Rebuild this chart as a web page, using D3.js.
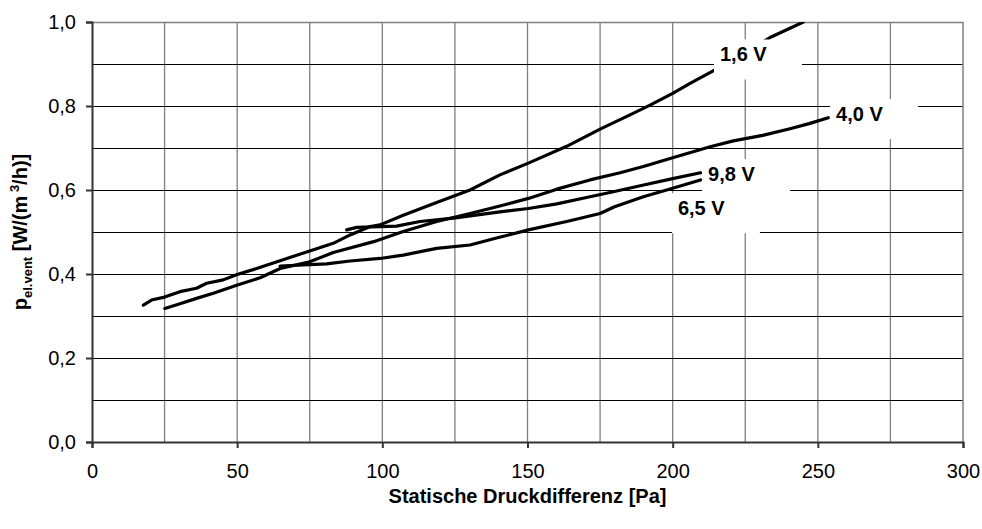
<!DOCTYPE html>
<html>
<head>
<meta charset="utf-8">
<script src="https://cdn.jsdelivr.net/npm/d3@7"></script>
<style>
  body { margin: 0; background: #fff; }
  svg text { font-family: Arial, "Liberation Sans", sans-serif; }
</style>
</head>
<body>
<div id="chart"></div>
<script>
// series: [Pa, W/(m3/h)]
var series16 = [[17.7,0.326],[20.5,0.338],[25,0.345],[30.3,0.358],[36,0.366],[39.5,0.378],[45.2,0.386],
  [50,0.399],[56.7,0.413],[75,0.455],[83.1,0.473],[88.9,0.493],[95.8,0.513],[99.2,0.517],[107.2,0.54],
  [118.7,0.57],[130.2,0.6],[140.5,0.636],[150.3,0.664],[163.5,0.704],[175,0.745],[185.3,0.779],
  [192.2,0.802],[200,0.83],[206,0.854],[213.8,0.883],[234.1,0.965],[245,1.0]];
var series40 = [[25.1,0.318],[30.3,0.329],[36,0.342],[41.8,0.354],[50.1,0.374],[57.9,0.391],[64.8,0.413],
  [75,0.429],[83.1,0.451],[97,0.477],[107.2,0.501],[118.7,0.525],[130.2,0.544],[140.5,0.562],[150.3,0.58],
  [160.1,0.602],[171.5,0.624],[181.9,0.641],[189.9,0.656],[200,0.677],[212.9,0.703],[220.9,0.717],
  [231,0.73],[240.4,0.746],[247,0.758],[253.6,0.772]];
var series98 = [[87.7,0.505],[91.2,0.511],[99.2,0.513],[104.9,0.514],[113,0.525],[124.5,0.533],[140.5,0.548],
  [150.3,0.556],[160.1,0.567],[171.5,0.584],[178.4,0.594],[190,0.612],[200,0.627],[209.6,0.641]];
var series65 = [[64.8,0.419],[80.8,0.424],[88.9,0.431],[99.2,0.437],[107.2,0.445],[118.7,0.461],[130.2,0.469],
  [140,0.487],[150.3,0.505],[163.5,0.525],[175,0.544],[180,0.56],[189.9,0.584],[200,0.604],[209.6,0.624]];

var seriesList = [series16, series40, series98, series65];
var labelNames = ["1,6 V", "4,0 V", "9,8 V", "6,5 V"];
var labelAt = [[216.3,0.906],[256.3,0.764],[212.2,0.621],[201.8,0.540]];

var xTicks = [0, 50, 100, 150, 200, 250, 300];
var xGrid = [25, 50, 75, 100, 125, 150, 175, 200, 225, 250, 275];
var yTicks = [0, 0.2, 0.4, 0.6, 0.8, 1.0];
var yGrid = [0.1, 0.2, 0.3, 0.4, 0.5, 0.6, 0.7, 0.8, 0.9];

// margins
var margin = {top: 22, right: 19, bottom: 87, left: 92},
    width = 982 - margin.left - margin.right,
    height = 529 - margin.top - margin.bottom;

var svg = d3.select("#chart")
  .append("svg")
    .attr("width", 982)
    .attr("height", 529)
  .append("g")
    .attr("transform", "translate(" + margin.left + "," + margin.top + ")");

var x = d3.scaleLinear().domain([0, 300]).range([0, width]);
var y = d3.scaleLinear().domain([0, 1]).range([height, 0]);

svg.append("clipPath")
    .attr("id", "plotclip")
  .append("rect")
    .attr("width", width)
    .attr("height", height);

// gridlines
svg.selectAll(".vgrid")
    .data(xGrid)
  .enter().append("line")
    .attr("x1", function(d) { return x(d); })
    .attr("x2", function(d) { return x(d); })
    .attr("y1", 0)
    .attr("y2", height)
    .attr("stroke", "#808080")
    .attr("stroke-width", 1.3);

svg.selectAll(".hgrid")
    .data(yGrid)
  .enter().append("line")
    .attr("x1", 0)
    .attr("x2", width)
    .attr("y1", function(d) { return Math.round(y(d)) + 0.5; })
    .attr("y2", function(d) { return Math.round(y(d)) + 0.5; })
    .attr("stroke", "#000")
    .attr("stroke-width", 1);

// plot frame top / right
svg.append("path")
    .attr("d", "M0,0.5H" + width + "V" + height)
    .attr("fill", "none")
    .attr("stroke", "#808080")
    .attr("stroke-width", 1.5);

// curves
var line = d3.line()
    .x(function(d) { return x(d[0]); })
    .y(function(d) { return y(d[1]); });

svg.append("g")
    .attr("clip-path", "url(#plotclip)")
  .selectAll(".curve")
    .data(seriesList)
  .enter().append("path")
    .attr("d", line)
    .attr("fill", "none")
    .attr("stroke", "#000")
    .attr("stroke-width", 3.2)
    .attr("stroke-linejoin", "round")
    .attr("stroke-linecap", "round");

// data labels with white boxes
var labels = svg.selectAll(".lbl")
    .data(labelNames)
  .enter().append("g")
    .attr("transform", function(d, i) {
      return "translate(" + x(labelAt[i][0]) + "," + y(labelAt[i][1]) + ")";
    });

labels.append("rect")
    .attr("x", -6)
    .attr("y", -22)
    .attr("width", 88)
    .attr("height", 40)
    .attr("fill", "#fff");

labels.append("text")
    .attr("font-size", "20px")
    .attr("font-weight", "bold")
    .text(function(d) { return d; });

// axes
var fmt = function(d) { return d.toFixed(1).replace(".", ","); };

var yAxis = svg.append("g")
    .call(d3.axisLeft(y).tickValues(yTicks).tickFormat(fmt).tickSize(6).tickPadding(10));
var xAxis = svg.append("g")
    .attr("transform", "translate(0," + height + ")")
    .call(d3.axisBottom(x).tickValues(xTicks).tickSize(6).tickPadding(16));

[xAxis, yAxis].forEach(function(a) {
  a.selectAll("path, line").attr("stroke", "#333").attr("stroke-width", 2);
  a.selectAll("text")
    .attr("font-size", "20px")
    .attr("fill", "#000")
    .style("font-family", "Arial, 'Liberation Sans', sans-serif");
});

// axis titles
svg.append("text")
    .attr("x", width / 2)
    .attr("y", height + 61)
    .attr("text-anchor", "middle")
    .attr("font-size", "20px")
    .attr("font-weight", "bold")
    .text("Statische Druckdifferenz [Pa]");

var yt = svg.append("text")
    .attr("transform", "translate(-65," + (height / 2) + ") rotate(-90)")
    .attr("text-anchor", "middle")
    .attr("font-size", "20px")
    .attr("font-weight", "bold");
yt.append("tspan").text("p");
yt.append("tspan").attr("font-size", "13px").attr("dy", 5).text("el.vent");
yt.append("tspan").attr("dy", -5).text(" [W/(m");
yt.append("tspan").attr("font-size", "13px").attr("dy", -8).text(" 3");
yt.append("tspan").attr("dy", 8).text("/h)]");
</script>
</body>
</html>
